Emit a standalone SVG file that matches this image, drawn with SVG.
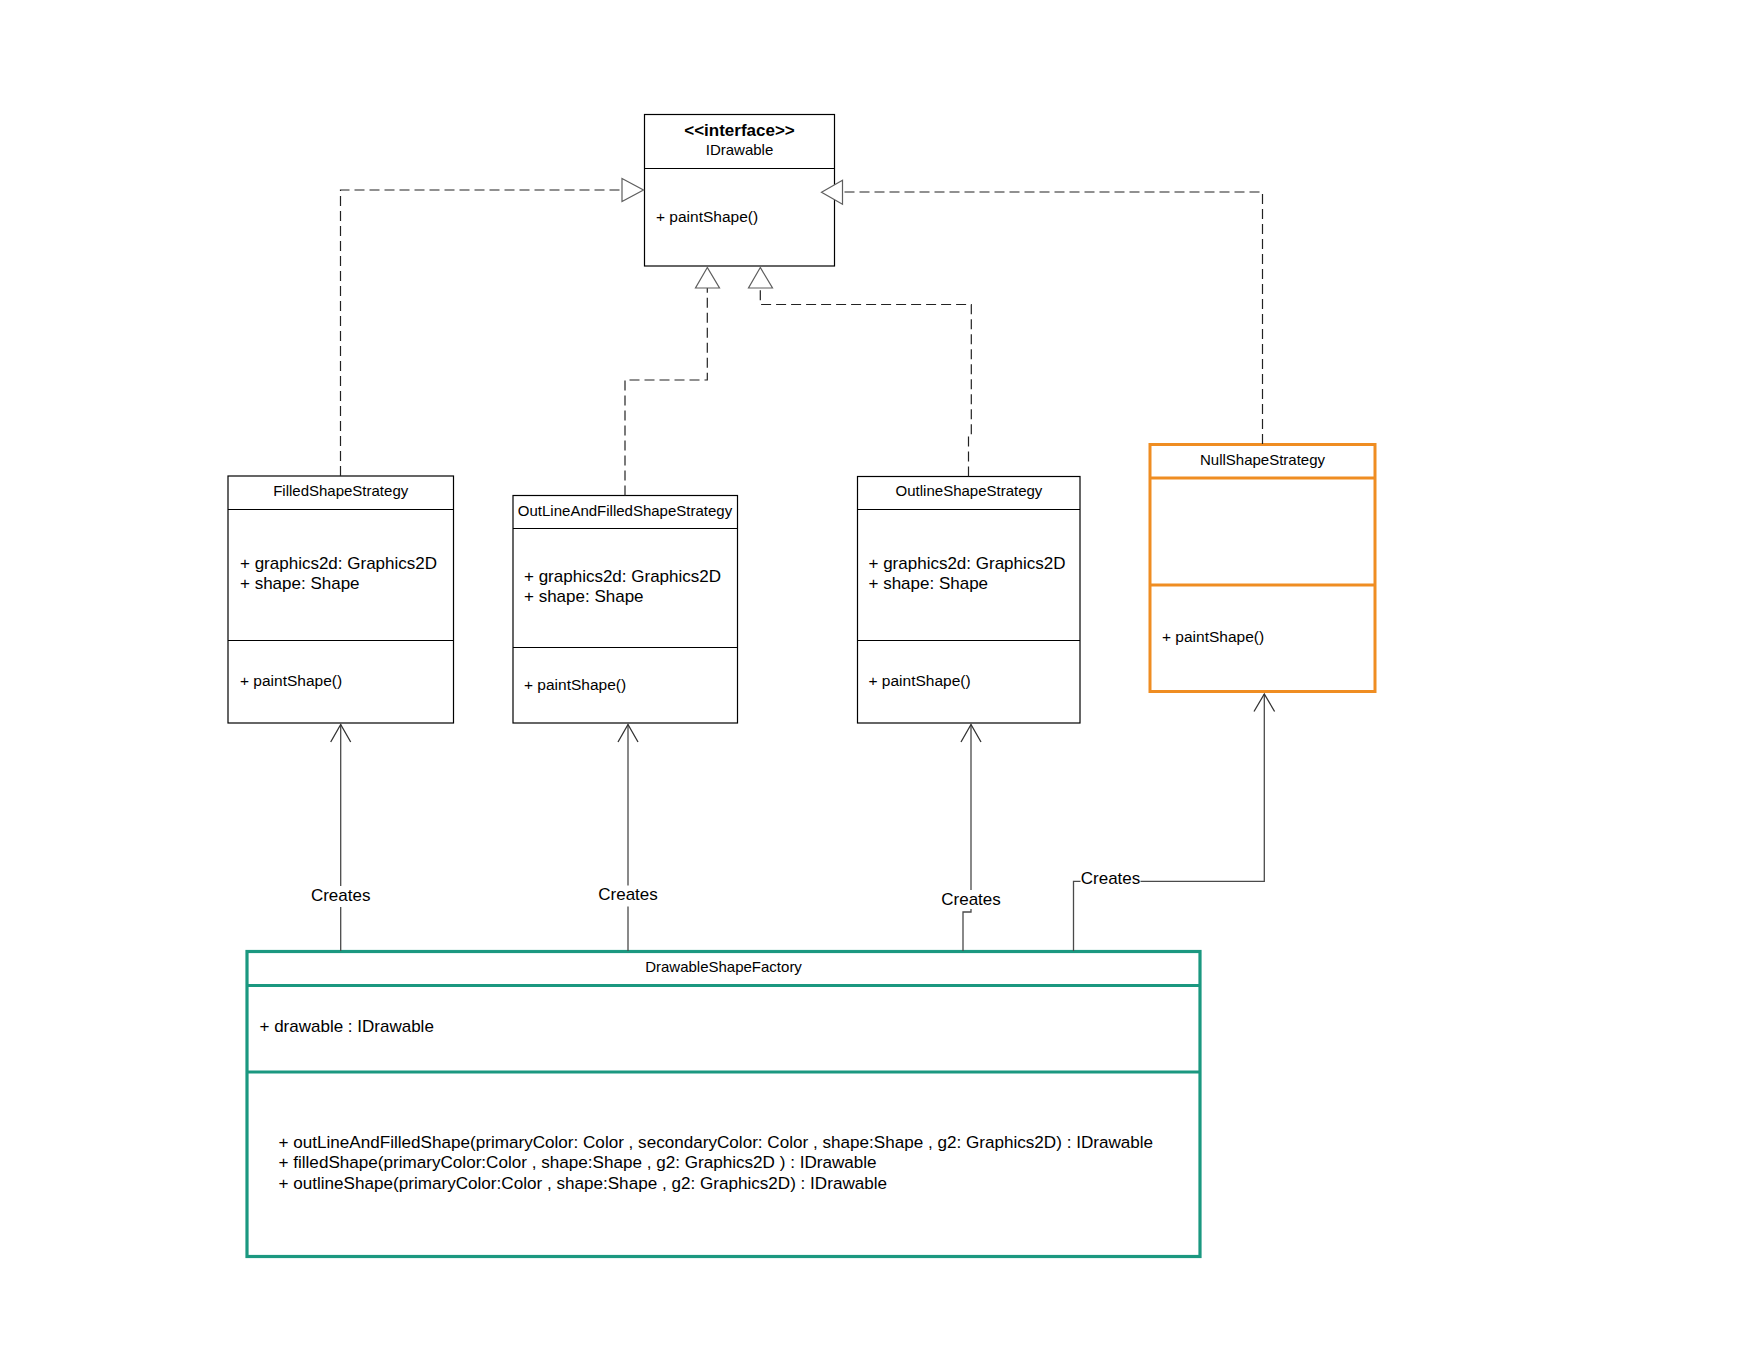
<svg xmlns="http://www.w3.org/2000/svg" width="1760" height="1360" viewBox="0 0 1760 1360">
<style>
  text { font-family: "Liberation Sans", Arial, sans-serif; fill: #000; }
  .title { font-size: 15px; text-anchor: middle; }
  .m15 { font-size: 15.5px; }
  .m17 { font-size: 17px; }
  .m17b { font-size: 17.1px; }
  .bold { font-weight: bold; font-size: 17px; text-anchor: middle; }
  .lbl { font-size: 17px; text-anchor: middle; }
  .box { fill: #fff; stroke: #000; stroke-width: 1.2; }
  .div { stroke: #000; stroke-width: 1.2; fill: none; }
  .obox { fill: #fff; stroke: #EF8D22; stroke-width: 3; }
  .odiv { stroke: #EF8D22; stroke-width: 3; fill: none; }
  .tbox { fill: #fff; stroke: #1B9880; stroke-width: 3.2; }
  .tdiv { stroke: #1B9880; stroke-width: 3.2; fill: none; }
  .dash { fill: none; stroke: #222; stroke-width: 1.2; stroke-dasharray: 10,5; }
  .tri { fill: #fff; stroke: #5e5e5e; stroke-width: 1.2; }
  .solid { fill: none; stroke: #4a4a4a; stroke-width: 1.3; }
  .head { fill: none; stroke: #333; stroke-width: 1.3; }
  .bg { fill: #fff; stroke: none; }
</style>
<rect x="0" y="0" width="1760" height="1360" fill="#fff"/>

<g id="node-idrawable">
  <rect class="box" x="644.5" y="114.5" width="190" height="151.5"/>
  <line class="div" x1="644.5" y1="168.5" x2="834.5" y2="168.5"/>
  <text class="bold" x="739.5" y="135.5">&lt;&lt;interface&gt;&gt;</text>
  <text class="title" x="739.5" y="155">IDrawable</text>
  <text class="m15" x="656" y="222">+ paintShape()</text>
</g>

<g id="node-filled">
  <rect class="box" x="228" y="476" width="225.5" height="247"/>
  <line class="div" x1="228" y1="509.5" x2="453.5" y2="509.5"/>
  <line class="div" x1="228" y1="640.5" x2="453.5" y2="640.5"/>
  <text class="title" x="340.7" y="496">FilledShapeStrategy</text>
  <text class="m17" x="240" y="568.5">+ graphics2d: Graphics2D</text>
  <text class="m17" x="240" y="589">+ shape: Shape</text>
  <text class="m15" x="240" y="685.5">+ paintShape()</text>
</g>

<g id="node-outlineandfilled">
  <rect class="box" x="513" y="495.5" width="224.5" height="227.5"/>
  <line class="div" x1="513" y1="528.5" x2="737.5" y2="528.5"/>
  <line class="div" x1="513" y1="647.5" x2="737.5" y2="647.5"/>
  <text class="title" x="625" y="516">OutLineAndFilledShapeStrategy</text>
  <text class="m17" x="524" y="581.5">+ graphics2d: Graphics2D</text>
  <text class="m17" x="524" y="602">+ shape: Shape</text>
  <text class="m15" x="524" y="689.5">+ paintShape()</text>
</g>

<g id="node-outline">
  <rect class="box" x="857.5" y="476.5" width="222.5" height="246.5"/>
  <line class="div" x1="857.5" y1="509.5" x2="1080" y2="509.5"/>
  <line class="div" x1="857.5" y1="640.5" x2="1080" y2="640.5"/>
  <text class="title" x="969" y="496">OutlineShapeStrategy</text>
  <text class="m17" x="868.5" y="568.5">+ graphics2d: Graphics2D</text>
  <text class="m17" x="868.5" y="589">+ shape: Shape</text>
  <text class="m15" x="868.5" y="685.5">+ paintShape()</text>
</g>

<g id="node-null">
  <rect class="obox" x="1150" y="444.5" width="225" height="247"/>
  <line class="odiv" x1="1150" y1="478" x2="1375" y2="478"/>
  <line class="odiv" x1="1150" y1="585" x2="1375" y2="585"/>
  <text class="title" x="1262.5" y="464.5">NullShapeStrategy</text>
  <text class="m15" x="1162" y="642">+ paintShape()</text>
</g>

<g id="node-factory">
  <rect class="tbox" x="247" y="951.5" width="953" height="305"/>
  <line class="tdiv" x1="247" y1="985.5" x2="1200" y2="985.5"/>
  <line class="tdiv" x1="247" y1="1072" x2="1200" y2="1072"/>
  <text class="title" x="723.5" y="972">DrawableShapeFactory</text>
  <text class="m17" x="259.5" y="1032">+ drawable : IDrawable</text>
  <text class="m17b" x="278.5" y="1147.5">+ outLineAndFilledShape(primaryColor: Color , secondaryColor: Color , shape:Shape , g2: Graphics2D) : IDrawable</text>
  <text class="m17b" x="278.5" y="1168">+ filledShape(primaryColor:Color , shape:Shape , g2: Graphics2D ) : IDrawable</text>
  <text class="m17b" x="278.5" y="1188.5">+ outlineShape(primaryColor:Color , shape:Shape , g2: Graphics2D) : IDrawable</text>
</g>

<g id="connectors">
  <path class="dash" d="M340.5,476 V190 H622"/>
  <polygon class="tri" points="622,178.5 643.5,190 622,201.5"/>

  <path class="dash" d="M625,495.5 V380 H707.3 V288"/>
  <polygon class="tri" points="707.3,267.5 695.5,288 719.5,288"/>

  <path class="dash" d="M968.5,476.5 V436.5 H971.3 V304.5 H760.3 V288"/>
  <polygon class="tri" points="760.3,267.5 748.5,288 772.5,288"/>

  <path class="dash" d="M1262.5,444 V192 H842.5"/>
  <polygon class="tri" points="821.5,192.3 842.5,180.3 842.5,204.3"/>

  <path class="solid" d="M340.7,951 V724.5"/>
  <polyline class="head" points="330.7,742 340.7,724.5 350.7,742"/>
  <rect class="bg" x="309" y="886" width="64" height="21"/>
  <text class="lbl" x="340.7" y="900.5">Creates</text>

  <path class="solid" d="M628,951 V724.5"/>
  <polyline class="head" points="618,742 628,724.5 638,742"/>
  <rect class="bg" x="596" y="885.5" width="64" height="21"/>
  <text class="lbl" x="628" y="900">Creates</text>

  <path class="solid" d="M963,951 V912 H971 V724.5"/>
  <polyline class="head" points="961,742 971,724.5 981,742"/>
  <rect class="bg" x="939" y="890" width="64" height="19"/>
  <text class="lbl" x="971" y="905">Creates</text>

  <path class="solid" d="M1073.5,951 V881.3 H1264.3 V694"/>
  <polyline class="head" points="1254,711.5 1264.3,694 1274.6,711.5"/>
  <rect class="bg" x="1080.5" y="871" width="60" height="18"/>
  <text class="lbl" x="1110.5" y="883.5">Creates</text>
</g>
</svg>
